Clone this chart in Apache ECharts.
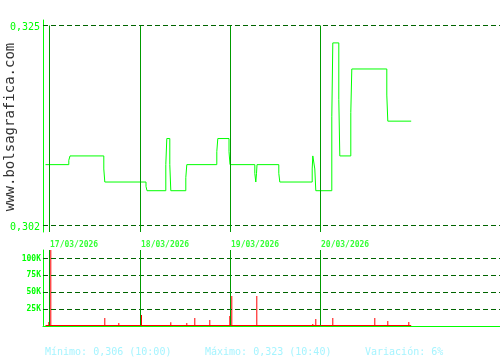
<!DOCTYPE html>
<html><head><meta charset="utf-8">
<script src="https://cdn.jsdelivr.net/npm/echarts@6/dist/echarts.min.js"></script>
<style>html,body{margin:0;padding:0;background:#fff}#c{width:500px;height:360px}</style>
</head><body><div id="c"></div>
<script>
// ---- data ----
const dayStarts = [0, 91, 181, 271];
const dayLabels = ['17/03/2026', '18/03/2026', '19/03/2026', '20/03/2026'];
const priceTime = [-4, 19.3, 20.5, 54.3, 55.3, 96.5, 97.5, 116.3, 117.3, 120.3, 121.3, 136.3, 137.3, 167.3, 168.3, 179.5, 180.5, 205.3, 206.3, 207, 207.5, 229.3, 230.3, 262.7, 263.3, 265.3, 266.3, 282.3, 283.3, 289.3, 290.3, 301.3, 302.3, 337.3, 338.3, 361.7];
const priceValues = [0.309, 0.3095, 0.310, 0.3085, 0.307, 0.3065, 0.306, 0.309, 0.312, 0.309, 0.306, 0.3075, 0.309, 0.3105, 0.312, 0.3105, 0.309, 0.308, 0.307, 0.308, 0.309, 0.308, 0.307, 0.3085, 0.310, 0.3085, 0.306, 0.3145, 0.323, 0.3165, 0.310, 0.315, 0.320, 0.317, 0.314, 0.314];
const priceTicks = [0.302, 0.325];
const volTime = [-0.7, 1.3, 55.3, 69.3, 92, 121.3, 137.3, 145.3, 160.3, 180.3, 182.3, 207.3, 263.3, 266.3, 283.3, 325.3, 338.3, 359.3];
const volValues = [5200, 125000, 11200, 3700, 15700, 4800, 3700, 11200, 8200, 14200, 44000, 44000, 2200, 9700, 11200, 11200, 6700, 5200];
const volTicks = [25000, 50000, 75000, 100000];
const summaryTexts = ['Mínimo: 0,306 (10:00)', 'Máximo: 0,323 (10:40)', 'Variación: 6%'];
const siteText = 'www.bolsagrafica.com';

// ---- layout ----
const GL = 43;
const xMin = -6.5, xMax = 450.5;
const pTop = 20, pBottom = 232;           // price grid pixel extent
const pHiPx = 25.5, pLoPx = 225.5;        // pixel rows of the two price ticks
const pk = (pLoPx - pHiPx) / (priceTicks[1] - priceTicks[0]);
const yMax = priceTicks[1] + (pHiPx - pTop) / pk;
const yMin = priceTicks[0] - (pBottom - pLoPx) / pk;
const vTop = 250, vZeroPx = 325.5, v100Px = 258.5;
const vk = (vZeroPx - v100Px) / 100000;
const volMax = (vZeroPx - vTop) / vk;

const BRIGHT = '#00ff00', DARK = '#006400', DAY = '#009a00';
const fmtPrice = v => v.toFixed(3).replace('.', ',');

const chart = echarts.init(document.getElementById('c'), null, {renderer: 'canvas'});
chart.setOption({
  animation: false,
  backgroundColor: '#ffffff',
  grid: [
    {left: GL, right: 0, top: pTop, height: pBottom - pTop},
    {left: GL, right: 0, top: vTop, height: vZeroPx - vTop}
  ],
  xAxis: [
    {gridIndex: 0, type: 'value', min: xMin, max: xMax, show: false},
    {gridIndex: 1, type: 'value', min: xMin, max: xMax, offset: 1,
     axisLine: {show: true, onZero: false, lineStyle: {color: BRIGHT, width: 1}},
     axisTick: {show: false}, axisLabel: {show: false}, splitLine: {show: false}}
  ],
  yAxis: [
    {gridIndex: 0, type: 'value', min: yMin, max: yMax,
     axisLine: {show: true, onZero: false, lineStyle: {color: BRIGHT, width: 1}},
     axisTick: {show: false}, axisLabel: {show: false}, splitLine: {show: false}},
    {gridIndex: 1, type: 'value', min: 0, max: volMax, interval: 25000,
     axisLine: {show: true, onZero: false, lineStyle: {color: BRIGHT, width: 1}},
     axisTick: {show: false}, splitLine: {show: false},
     axisLabel: {margin: 2, color: BRIGHT, fontFamily: 'DejaVu Sans Mono', fontWeight: 'bold', fontSize: 8,
       formatter: v => volTicks.indexOf(v) >= 0 ? (v / 1000) + 'K' : ''}}
  ],
  graphic: [
    {type: 'text', x: 10.5, y: 127, rotation: Math.PI / 2,
     style: {text: siteText, font: '14px "DejaVu Sans Mono"', fill: '#333333', align: 'center', verticalAlign: 'middle'}},
    {type: 'text', x: 45, y: 352, style: {text: summaryTexts[0], font: '10px "DejaVu Sans Mono"', fill: '#a6f4ff', align: 'left', verticalAlign: 'middle'}},
    {type: 'text', x: 205, y: 352, style: {text: summaryTexts[1], font: '10px "DejaVu Sans Mono"', fill: '#a6f4ff', align: 'left', verticalAlign: 'middle'}},
    {type: 'text', x: 365, y: 352, style: {text: summaryTexts[2], font: '10px "DejaVu Sans Mono"', fill: '#a6f4ff', align: 'left', verticalAlign: 'middle'}}
  ],
  series: [
    {
      type: 'line', xAxisIndex: 0, yAxisIndex: 0, step: 'end', showSymbol: false, silent: true,
      data: priceTime.map((t, i) => [t, priceValues[i]]),
      lineStyle: {color: BRIGHT, width: 1},
      markLine: {
        symbol: 'none', silent: true, animation: false, precision: 6,
        data: priceTicks.map(v => ({
          yAxis: v,
          lineStyle: {type: [5, 3], color: DARK, width: 1},
          label: {show: true, position: 'start', distance: 3, offset: [0, 1.5], formatter: fmtPrice(v), color: BRIGHT,
                  fontFamily: 'DejaVu Sans Mono', fontSize: 10}
        })).concat(dayStarts.map(d => [
          {coord: [d, priceTicks[1]], lineStyle: {type: 'solid', color: DAY, width: 1}, label: {show: false}},
          {coord: [d, yMin]}
        ]))
      }
    },
    {
      type: 'bar', xAxisIndex: 1, yAxisIndex: 1, barWidth: 1, silent: true,
      data: volTime.map((t, i) => [t, volValues[i]]),
      itemStyle: {color: '#ff0000'},
      markLine: {
        symbol: 'none', silent: true, animation: false, precision: 2,
        data: volTicks.map(v => ({yAxis: v, lineStyle: {type: [5, 3], color: DARK, width: 1}, label: {show: false}}))
          .concat(dayStarts.map(d => ({xAxis: d, lineStyle: {type: 'solid', color: DAY, width: 1}, label: {show: false}})))
      }
    },
    {
      type: 'line', xAxisIndex: 1, yAxisIndex: 1, showSymbol: false, silent: true,
      data: [[priceTime[0], 0], [priceTime[priceTime.length - 1], 0]],
      lineStyle: {color: '#ff0000', width: 1.2}
    },
    {
      type: 'scatter', xAxisIndex: 1, yAxisIndex: 1, symbolSize: 1, silent: true,
      itemStyle: {color: 'transparent'},
      data: dayStarts.map((d, i) => ({name: dayLabels[i], value: [d, volMax]})),
      label: {show: true, position: 'right', distance: 0, offset: [0, -5.5], formatter: '{b}',
              color: BRIGHT, fontFamily: 'DejaVu Sans Mono', fontWeight: 'bold', fontSize: 8}
    }
  ]
});
</script>
</body></html>
